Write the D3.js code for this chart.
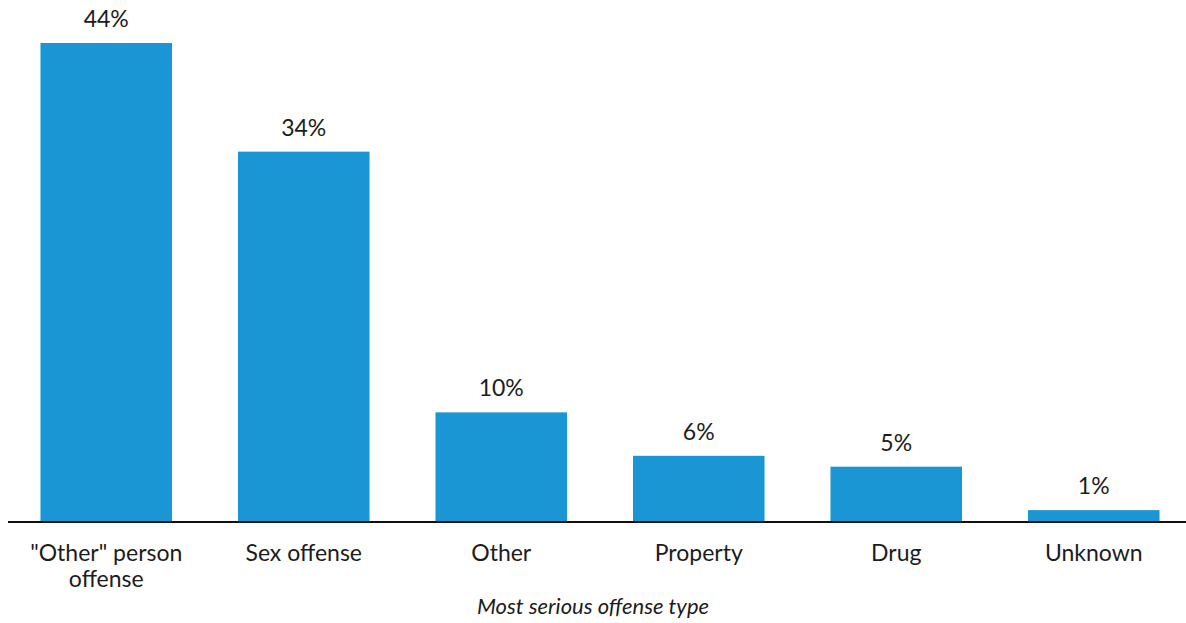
<!DOCTYPE html>
<html>
<head>
<meta charset="utf-8">
<script src="https://cdn.jsdelivr.net/npm/d3@7"></script>
<style>
  html, body { margin: 0; padding: 0; background: #fff; }
  svg { display: block; font-family: Lato, "Open Sans", sans-serif; }
</style>
</head>
<body>
<svg id="chart" width="1186" height="623"></svg>
<script>
// Share of cases by most serious offense type
const categories = [["\"Other\" person", "offense"], ["Sex offense"], ["Other"], ["Property"], ["Drug"], ["Unknown"]];
const values = [44, 34, 10, 6, 5, 1];
const valueLabels = ["44%", "34%", "10%", "6%", "5%", "1%"];
const axisTitle = "Most serious offense type";

const svg = d3.select("#chart");
const W = 1186;
const baseY = 521;
const textColor = "#1c1c1c";
const fontSize = 23;

const keys = categories.map((c, i) => i);
const x = d3.scaleBand()
  .domain(keys)
  .range([7.5, 1192.5])
  .paddingInner(0.334)
  .paddingOuter(0.167);

const y = d3.scaleLinear().domain([0, 44]).range([baseY, 43]);

// bars
svg.append("g").selectAll("rect")
  .data(values)
  .join("rect")
  .attr("x", (d, i) => x(i))
  .attr("width", x.bandwidth())
  .attr("y", d => y(d))
  .attr("height", d => y(0) - y(d))
  .attr("fill", "#1996d3");

// value labels
svg.append("g").selectAll("text")
  .data(values)
  .join("text")
  .attr("x", (d, i) => x(i) + x.bandwidth() / 2)
  .attr("y", d => y(d) - 16)
  .attr("text-anchor", "middle")
  .attr("font-size", fontSize)
  .attr("fill", textColor)
  .text((d, i) => valueLabels[i]);

// baseline
svg.append("line")
  .attr("x1", 8).attr("x2", W)
  .attr("y1", baseY + 1).attr("y2", baseY + 1)
  .attr("stroke", "#111")
  .attr("stroke-width", 2);

// category labels
const catG = svg.append("g");
categories.forEach((lines, i) => {
  const cx = x(i) + x.bandwidth() / 2;
  const t = catG.append("text")
    .attr("x", cx)
    .attr("y", 561)
    .attr("text-anchor", "middle")
    .attr("font-size", fontSize)
    .attr("fill", textColor);
  lines.forEach((ln, j) => {
    t.append("tspan")
      .attr("x", cx)
      .attr("dy", j === 0 ? 0 : 26)
      .text(ln);
  });
});

// axis title
svg.append("text")
  .attr("x", W / 2)
  .attr("y", 614)
  .attr("text-anchor", "middle")
  .attr("font-size", 22)
  .attr("font-style", "italic")
  .attr("fill", textColor)
  .text(axisTitle);
</script>
</body>
</html>
